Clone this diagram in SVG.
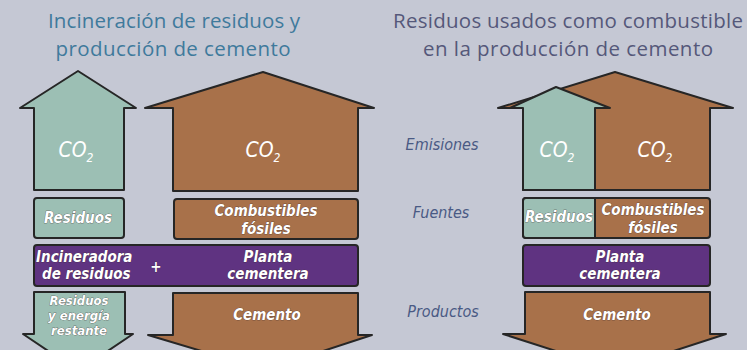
<svg xmlns="http://www.w3.org/2000/svg" width="747" height="350" viewBox="0 0 747 350">
<style>
.g{fill:#9cbfb4;stroke:#262626;stroke-width:2;stroke-linejoin:round}
.b{fill:#a8714a;stroke:#262626;stroke-width:2;stroke-linejoin:round}
.p{fill:#5f3381;stroke:#262626;stroke-width:2;stroke-linejoin:round}
.t{font-family:"Open Sans",sans-serif;font-size:20.5px;text-anchor:middle}
.w{font-family:"DejaVu Sans Condensed","DejaVu Sans",sans-serif;font-stretch:condensed;font-style:italic;font-weight:bold;fill:#fff;font-size:15px;text-anchor:middle;stroke:#3a2a2a;stroke-width:0.5;paint-order:stroke}
.s{font-size:13px}
.co{font-family:"DejaVu Sans Condensed","DejaVu Sans",sans-serif;font-stretch:condensed;font-style:italic;fill:#fff;font-size:21px;text-anchor:middle}
.l{font-family:"DejaVu Sans Condensed","DejaVu Sans",sans-serif;font-stretch:condensed;font-style:italic;fill:#4a5a84;font-size:16px;text-anchor:middle}
</style>
<rect width="747" height="350" fill="#c5c8d4"/>
<g id="titles">
<text class="t" x="174" y="28" fill="#3f7a9c" textLength="252">Incineración de residuos y</text>
<text class="t" x="173" y="56" fill="#3f7a9c" textLength="235">producción de cemento</text>
<text class="t" x="568" y="28" fill="#55587a" textLength="350">Residuos usados como combustible</text>
<text class="t" x="568" y="56" fill="#55587a" textLength="290">en la producción de cemento</text>
</g>
<g id="row-labels">
<text class="l" x="442" y="150">Emisiones</text>
<text class="l" x="441" y="218">Fuentes</text>
<text class="l" x="443" y="317">Productos</text>
</g>
<g id="left-co2-green">
<path class="g" d="M34,190 V108 H20 L78,71 L136,108 H124 V190 Z"/>
<text class="co" x="76" y="157">CO<tspan font-size="12" dy="5">2</tspan></text>
</g>
<g id="left-co2-brown">
<path class="b" d="M173,191 V108 H145 L263,72 L374,108 H358 V191 Z"/>
<text class="co" x="263" y="157">CO<tspan font-size="12" dy="5">2</tspan></text>
</g>
<g id="left-residuos">
<rect class="g" x="34" y="198" width="90" height="40" rx="3"/>
<text class="w" x="78" y="223">Residuos</text>
</g>
<g id="left-combustibles">
<rect class="b" x="174" y="199" width="184" height="40" rx="3"/>
<text class="w" x="266" y="216">Combustibles</text>
<text class="w" x="266" y="234">fósiles</text>
</g>
<g id="left-planta">
<rect class="p" x="34" y="245" width="324" height="41" rx="3"/>
<text class="w" x="36" y="262" style="text-anchor:start">Incineradora</text>
<text class="w" x="42" y="279" style="text-anchor:start">de residuos</text>
<text class="w" x="156" y="272">+</text>
<text class="w" x="268" y="262">Planta</text>
<text class="w" x="268" y="279">cementera</text>
</g>
<g id="left-residuos-out">
<path class="g" d="M34,292 H125 V334 H133 L78,371 L23,334 H34 Z"/>
<text class="w s" x="79" y="305">Residuos</text>
<text class="w s" x="79" y="320">y energía</text>
<text class="w s" x="79" y="335">restante</text>
</g>
<g id="left-cemento">
<path class="b" d="M173,293 H358 V335 H372 L265,370 L148,335 H173 Z"/>
<text class="w" x="267" y="320">Cemento</text>
</g>
<g id="right-co2-brown">
<path class="b" d="M523,190 V108 H498 L615,72 L733,108 H710 V190 Z"/>
<text class="co" x="655" y="157">CO<tspan font-size="12" dy="5">2</tspan></text>
</g>
<g id="right-co2-green">
<path class="g" d="M523,190 V108 H510 L556,87 L610,108 H595 V190 Z"/>
<text class="co" x="557" y="157">CO<tspan font-size="12" dy="5">2</tspan></text>
</g>
<g id="right-fuentes">
<rect class="b" x="523" y="198" width="187" height="40" rx="3"/>
<path class="g" d="M526,198 H595 V238 H526 Q523,238 523,235 V201 Q523,198 526,198 Z"/>
<text class="w" x="559" y="222">Residuos</text>
<text class="w" x="653" y="215">Combustibles</text>
<text class="w" x="653" y="233">fósiles</text>
</g>
<g id="right-planta">
<rect class="p" x="523" y="245" width="187" height="41" rx="3"/>
<text class="w" x="620" y="262">Planta</text>
<text class="w" x="620" y="279">cementera</text>
</g>
<g id="right-cemento">
<path class="b" d="M525,292 H710 V334 H726 L615,370 L503,334 H525 Z"/>
<text class="w" x="617" y="320">Cemento</text>
</g>
<g id="connectors"/>
</svg>
